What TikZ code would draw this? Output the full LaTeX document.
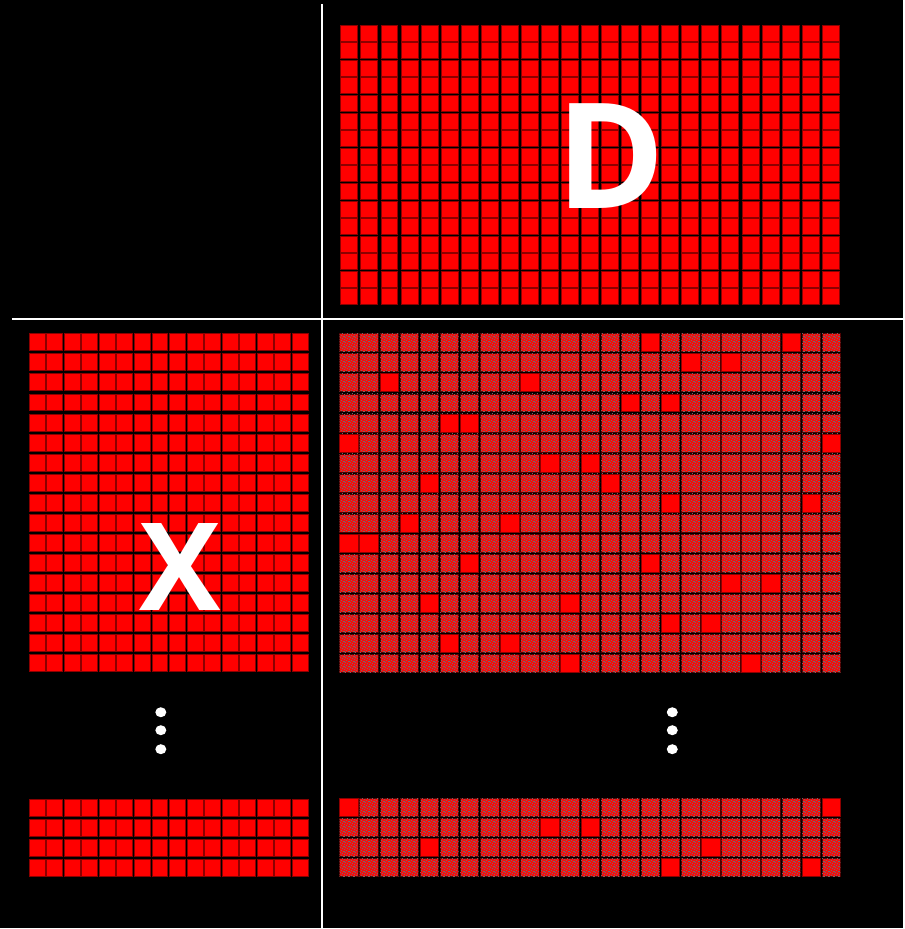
\documentclass[tikz,border=0pt]{standalone}
\usepackage{fontspec}
\setsansfont{Open Sans}
\usepackage{tikz}
\usetikzlibrary{patterns}
\definecolor{cellred}{RGB}{255,0,0}
\definecolor{celledge}{RGB}{140,0,0}
\definecolor{prodred}{RGB}{250,10,10}
\definecolor{prodedge}{RGB}{80,0,0}
\definecolor{speck}{RGB}{125,100,100}
% grey speckle for the product cells
\pgfdeclarepatternformonly{speckle}{\pgfpointorigin}{\pgfpoint{5pt}{5pt}}{\pgfpoint{5pt}{5pt}}{
  \pgfpathrectangle{\pgfpoint{0pt}{0pt}}{\pgfpoint{1pt}{1pt}}
  \pgfpathrectangle{\pgfpoint{3pt}{1pt}}{\pgfpoint{1pt}{1pt}}
  \pgfpathrectangle{\pgfpoint{1pt}{2pt}}{\pgfpoint{1pt}{1pt}}
  \pgfpathrectangle{\pgfpoint{4pt}{3pt}}{\pgfpoint{1pt}{1pt}}
  \pgfpathrectangle{\pgfpoint{2pt}{4pt}}{\pgfpoint{1pt}{1pt}}
  \pgfpathrectangle{\pgfpoint{0pt}{3pt}}{\pgfpoint{1pt}{1pt}}
  \pgfusepath{fill}
}

\begin{document}
\begin{tikzpicture}[x=1pt, y=-1pt,
  cell/.style={fill=cellred, draw=celledge, line width=0.5pt},
  prod/.style={fill=prodred, draw=prodedge, line width=0.5pt,
    postaction={pattern=speckle, pattern color=speck}},
  letter/.style={white, inner sep=0pt, font=\sffamily\bfseries\fontsize{#1}{#1}\selectfont}]
  \fill[black] (0,0) rectangle (904,929);

  % D matrix
  \foreach \r in {0,...,15}
    \foreach \c in {0,...,24}
      \filldraw[cell] ({341+20.08*\c},{25+17.6*\r}) rectangle ++(17,16);

  % X matrix, top block and last rows
  \foreach \r in {0,...,16}
    \foreach \c in {0,...,15}
      \filldraw[cell] ({29+17.56*\c},{334+20.06*\r}) rectangle ++(16,17);
  \foreach \r in {0,...,3}
    \foreach \c in {0,...,15}
      \filldraw[cell] ({29+17.56*\c},{800+20.06*\r}) rectangle ++(16,17);

  % product
  \foreach \r in {0,...,16}
    \foreach \c in {0,...,24}
      \filldraw[prod] ({340+20.12*\c},{334+20.06*\r}) rectangle ++(18.5,18);
  \foreach \r in {0,...,3}
    \foreach \c in {0,...,24}
      \filldraw[prod] ({340+20.12*\c},{799+20.06*\r}) rectangle ++(18.5,18);
  \foreach \r/\c in {0/15,0/22,1/17,1/19,2/2,2/9,3/14,3/16,4/5,4/6,5/0,5/24,
                     6/10,6/12,7/4,7/13,8/16,8/23,9/3,9/8,10/0,10/1,11/6,11/15,
                     12/19,12/21,13/4,13/11,14/16,14/18,15/5,15/8,16/11,16/20}
    \filldraw[cell] ({340+20.12*\c},{334+20.06*\r}) rectangle ++(18.5,18);
  \foreach \r/\c in {0/0,0/24,1/10,1/12,2/4,2/18,3/16,3/23}
    \filldraw[cell] ({340+20.12*\c},{799+20.06*\r}) rectangle ++(18.5,18);

  % split lines
  \draw[white, line width=2pt] (322,4) -- (322,929);
  \draw[white, line width=2pt] (12,319.5) -- (904,319.5);

  % vertical dots
  \foreach \y in {713,731,750} {
    \fill[white] (161,\y) ellipse (5.5 and 5);
    \fill[white] (673,\y) ellipse (5.5 and 5);
  }

  \node[letter=147] (dlabel) at (612,156) {D};
  \node[letter=122] (xlabel) at (180,568) {X};
\end{tikzpicture}
\end{document}
